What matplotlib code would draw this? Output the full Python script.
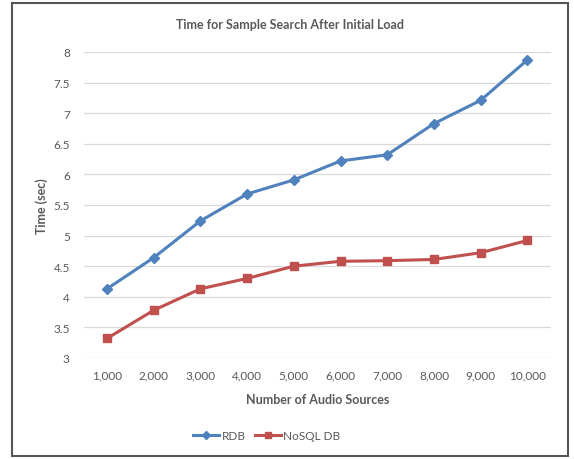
import matplotlib.pyplot as plt
from matplotlib.patches import Rectangle

sources = [1000, 2000, 3000, 4000, 5000, 6000, 7000, 8000, 9000, 10000]
source_labels = [f"{n:,}" for n in sources]
rdb_times = [4.13, 4.64, 5.24, 5.68, 5.91, 6.22, 6.32, 6.83, 7.21, 7.87]
nosql_times = [3.32, 3.78, 4.13, 4.30, 4.50, 4.58, 4.59, 4.61, 4.72, 4.92]
y_ticks = [3, 3.5, 4, 4.5, 5, 5.5, 6, 6.5, 7, 7.5, 8]

plt.rcParams["font.family"] = ["Lato", "DejaVu Sans"]
text_color = "#595959"

fig = plt.figure(figsize=(5.74, 4.6), dpi=100)
ax = fig.add_axes([0.1458, 0.2196, 0.8136, 0.6652])

pos = list(range(1, len(sources) + 1))
ax.plot(pos, rdb_times, color="#4F81BD", linewidth=2.2, marker="D",
        markersize=5, label="RDB")
ax.plot(pos, nosql_times, color="#C0504D", linewidth=2.2, marker="s",
        markersize=6, label="NoSQL DB")

ax.set_xlim(0.5, len(sources) + 0.5)
ax.set_ylim(3, 8)
ax.set_xticks(pos)
ax.set_xticklabels(source_labels)
ax.set_yticks(y_ticks)
ax.set_yticklabels([f"{t:g}" for t in y_ticks])
ax.tick_params(length=0, labelsize=8.5, colors=text_color, pad=8)
ax.tick_params(axis="y", pad=10)
ax.grid(axis="y", color="#D9D9D9", linewidth=0.9)
ax.set_axisbelow(True)
for s in ax.spines.values():
    s.set_visible(False)

ax.set_xlabel("Number of Audio Sources", fontsize=9, fontweight="bold",
              color=text_color, labelpad=9)
ax.set_ylabel("Time (sec)", fontsize=9, fontweight="bold",
              color=text_color, labelpad=4)
fig.text(0.505, 0.945, "Time for Sample Search After Initial Load",
         ha="center", va="center", fontsize=9, fontweight="bold",
         color=text_color)

fig.legend(loc="center", bbox_to_anchor=(0.465, 0.05), ncol=2, frameon=False,
           fontsize=8.5, labelcolor=text_color, handlelength=2.2,
           handletextpad=0.2, columnspacing=0.8, markerscale=0.75)

# outer chart frame
fig.patches.append(Rectangle((12 / 574, 3 / 460), 556 / 574, 453 / 460,
                             transform=fig.transFigure, fill=False,
                             edgecolor="#555555", linewidth=1.5))

fig.savefig("out.png", dpi=100)
